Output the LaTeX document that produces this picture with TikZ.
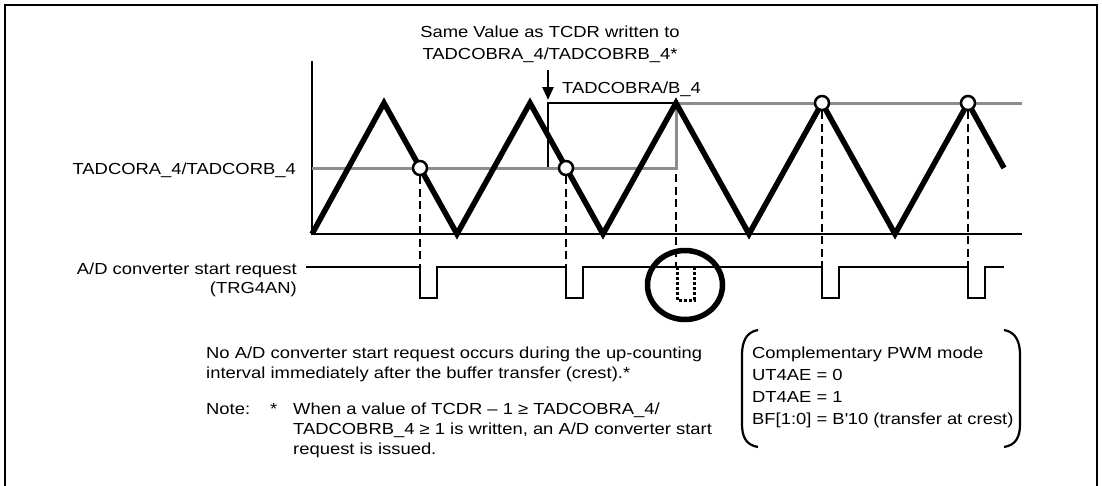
\documentclass[tikz,border=0pt]{standalone}
\usepackage{fontspec}
\setmainfont{Liberation Sans}[FakeStretch=1.15]
\usetikzlibrary{arrows.meta}
\definecolor{refgray}{RGB}{140,140,140}
\begin{document}
\begin{tikzpicture}[x=1pt,y=-1pt,
  wave/.style={line width=5.5pt, line join=miter},
  refline/.style={draw=refgray, line width=3pt},
  axisline/.style={line width=2.2pt},
  thinline/.style={line width=1.6pt},
  guide/.style={line width=2.5pt, dash pattern=on 8pt off 4.5pt},
  crossdot/.style={circle, draw, fill=white, line width=2.5pt, minimum size=14pt, inner sep=0pt},
  pulseline/.style={line width=2.3pt},
  ghostpulse/.style={line width=3pt, dash pattern=on 3pt off 2pt},
  hilite/.style={line width=5.5pt},
  paren/.style={line width=2.2pt},
  lbl/.style={inner sep=0pt, font=\fontsize{16}{20}\selectfont},
  frame/.style={line width=2.5pt}
]
\useasboundingbox (0,0) rectangle (1102,485);
% frame
\draw[frame] (5,486) -- (5,5) -- (1097,5) -- (1097,486);

% axes
\coordinate (ytop) at (312,61);
\coordinate (orig) at (312,234);
\coordinate (xend) at (1022,234);
\draw[axisline] (ytop) -- (orig) -- (xend);

% new compare value written (thin black)
\coordinate (wr0) at (548,168);
\coordinate (wr1) at (548,103);
\coordinate (tr) at (676,103);
\draw[thinline] (wr0) -- (wr1) -- (tr);

% compare registers (gray)
\coordinate (ga0) at (312,168);
\coordinate (ga1) at (676,168);
\coordinate (gb1) at (1022,103);
\draw[refline] (ga0) -- (ga1) -- (tr) -- (gb1);

% counter triangle wave
\draw[wave] (orig) -- (384,103) -- (457,234) -- (530,103) -- (603,234)
  -- (tr) -- (749,234) -- (822,103) -- (895,234) -- (968,103) -- (1004,168);

% compare match marks
\node[crossdot] (m1) at (420,168) {};
\node[crossdot] (m2) at (566,168) {};
\node[crossdot] (m3) at (822,103) {};
\node[crossdot] (m4) at (968,103) {};

% pulse train
\coordinate (p0) at (306,267);
\coordinate (q1) at (420,267);
\coordinate (q2) at (566,267);
\coordinate (q0) at (676,267);
\coordinate (q3) at (822,267);
\coordinate (q4) at (968,267);
\coordinate (pend) at (1004,267);
\draw[guide] (m1.south) -- (q1);
\draw[guide] (m2.south) -- (q2);
\draw[guide] ([yshift=-6pt]ga1) -- (q0);
\draw[guide] (m3.south) -- (q3);
\draw[guide] (m4.south) -- (q4);
\draw[pulseline] (p0) -- (q1) -- ++(0,31) -- ++(17,0) -- ++(0,-31)
  -- (q2) -- ++(0,31) -- ++(17,0) -- ++(0,-31)
  -- (q3) -- ++(0,31) -- ++(17,0) -- ++(0,-31)
  -- (q4) -- ++(0,31) -- ++(17,0) -- ++(0,-31) -- (pend);
\draw[ghostpulse] (677,267) -- (677,300) -- (694,300) -- (694,267);
\draw[hilite] (685,285) ellipse [x radius=37.5pt, y radius=34.5pt];

% arrow
\coordinate (atop) at (548,70);
\coordinate (abot) at (548,100);
\draw[line width=2.8pt, -{Triangle[length=13pt,width=11pt]}] (atop) -- (abot);

% labels
\node[lbl, anchor=base] (t1) at (550,37) {Same Value as TCDR written to};
\node[lbl, anchor=base] (t2) at (550,59) {TADCOBRA\_4/TADCOBRB\_4*};
\node[lbl, anchor=base west] (lb) at (562,93) {TADCOBRA/B\_4};
\node[lbl, anchor=base east] (la) at (296,174) {TADCORA\_4/TADCORB\_4};
\node[lbl, anchor=base east] (ad1) at (297,274) {A/D converter start request};
\node[lbl, anchor=base east] (ad2) at (297,293) {(TRG4AN)};

\node[lbl, anchor=base west] (n1) at (206,358) {No A/D converter start request occurs during the up-counting};
\node[lbl, anchor=base west] (n2) at (206,378) {interval immediately after the buffer transfer (crest).*};
\node[lbl, anchor=base west] (nt) at (206,414) {Note:};
\node[lbl, anchor=base west] (ns) at (270,414) {*};
\node[lbl, anchor=base west] (nl1) at (293,414) {When a value of TCDR – 1 ≥ TADCOBRA\_4/};
\node[lbl, anchor=base west] (nl2) at (293,434) {TADCOBRB\_4 ≥ 1 is written, an A/D converter start};
\node[lbl, anchor=base west] (nl3) at (293,454) {request is issued.};

% mode box
\draw[paren] (758,330) .. controls (746,332) and (742,342) .. (742,355) -- (742,424)
  .. controls (742,437) and (746,445) .. (758,447);
\draw[paren] (1004,330) .. controls (1016,332) and (1020,342) .. (1020,355) -- (1020,424)
  .. controls (1020,437) and (1016,445) .. (1004,447);
\node[lbl, anchor=base west] (b1) at (752,358) {Complementary PWM mode};
\node[lbl, anchor=base west] (b2) at (752,380) {UT4AE = 0};
\node[lbl, anchor=base west] (b3) at (752,402) {DT4AE = 1};
\node[lbl, anchor=base west] (b4) at (752,424) {BF[1:0] = B\textquotesingle 10 (transfer at crest)};
\end{tikzpicture}
\end{document}
